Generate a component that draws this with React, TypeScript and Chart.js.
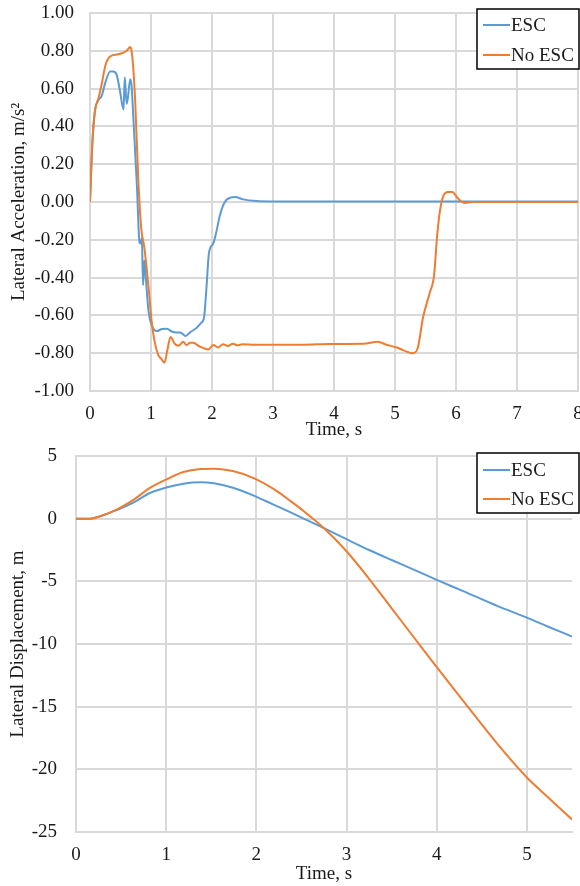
import React, { useEffect, useRef } from "react";
import { Chart, registerables } from "chart.js";

Chart.register(...registerables);

const FONT = "'Liberation Serif', 'Times New Roman', serif";
const ESC_COLOR = "#5B9BD5";
const NOESC_COLOR = "#ED7D31";
const GRID = "#d9d9d9";
const TEXT = "#1a1a1a";

const seriesLabels = ["ESC", "No ESC"];

// ---- Lateral acceleration (top chart) ----
const accelEscTime = [
  0, 0.04, 0.08, 0.14, 0.19, 0.25, 0.33, 0.38, 0.44, 0.49, 0.55, 0.57, 0.6, 0.62, 0.66, 0.68, 0.71,
  0.77, 0.81, 0.83, 0.85, 0.87, 0.89, 0.91, 0.96, 1.01, 1.09, 1.18, 1.26, 1.34, 1.42, 1.48, 1.57,
  1.64, 1.75, 1.82, 1.87, 1.91, 1.95, 2.02, 2.07, 2.13, 2.21, 2.3, 2.38, 2.51, 2.73, 3.0, 4.0, 5.0,
  6.0, 7.0, 8.0,
];
const accelEscValues = [
  0, 0.32, 0.48, 0.54, 0.56, 0.63, 0.69, 0.69, 0.67, 0.59, 0.49, 0.66, 0.52, 0.55, 0.65, 0.62, 0.45,
  0.08, -0.21, -0.22, -0.19, -0.44, -0.31, -0.38, -0.58, -0.65, -0.683, -0.672, -0.67, -0.685, -0.69,
  -0.69, -0.709, -0.69, -0.665, -0.64, -0.61, -0.45, -0.27, -0.22, -0.16, -0.07, 0.0, 0.023, 0.027,
  0.014, 0.005, 0.003, 0.002, 0.002, 0.002, 0.002, 0.002,
];

const accelNoEscTime = [
  0, 0.04, 0.08, 0.14, 0.19, 0.25, 0.33, 0.44, 0.55, 0.6, 0.66, 0.69, 0.74, 0.79, 0.84, 0.89, 0.96,
  1.01, 1.06, 1.12, 1.17, 1.22, 1.27, 1.32, 1.39, 1.45, 1.53, 1.58, 1.64, 1.69, 1.8, 1.94, 2.02, 2.1,
  2.18, 2.26, 2.34, 2.42, 2.5, 2.7, 3.0, 3.5, 3.93, 4.48, 4.72, 4.86, 5.03, 5.14, 5.29, 5.37, 5.46,
  5.57, 5.64, 5.69, 5.74, 5.79, 5.87, 5.94, 6.03, 6.14, 6.28, 7.0, 8.0,
];
const accelNoEscValues = [
  0, 0.32, 0.48, 0.55, 0.62, 0.72, 0.77, 0.78, 0.79, 0.8, 0.82, 0.78, 0.54, 0.13, -0.14, -0.24,
  -0.45, -0.63, -0.74, -0.81, -0.83, -0.85, -0.78, -0.714, -0.75, -0.76, -0.74, -0.757, -0.745,
  -0.745, -0.765, -0.78, -0.757, -0.77, -0.752, -0.762, -0.75, -0.758, -0.752, -0.755, -0.755,
  -0.755, -0.751, -0.75, -0.74, -0.755, -0.77, -0.785, -0.8, -0.775, -0.61, -0.48, -0.39, -0.18,
  -0.04, 0.03, 0.053, 0.053, 0.02, -0.005, 0.0, 0.0, 0.0,
];

const accelYTicks = [-1, -0.8, -0.6, -0.4, -0.2, 0, 0.2, 0.4, 0.6, 0.8, 1];
const accelXTicks = [0, 1, 2, 3, 4, 5, 6, 7, 8];

// ---- Lateral displacement (bottom chart) ----
const dispTime = [
  0, 0.16, 0.27, 0.45, 0.64, 0.82, 1.01, 1.19, 1.38, 1.53, 1.75, 1.97, 2.19, 2.38, 2.49, 2.75, 3.0,
  3.25, 3.5, 3.75, 4.0, 4.3, 4.67, 5.0, 5.23, 5.5,
];
const dispEscValues = [
  0, 0.0, 0.2, 0.68, 1.3, 2.05, 2.5, 2.79, 2.9, 2.82, 2.45, 1.84, 1.12, 0.5, 0.13, -0.76, -1.64,
  -2.5, -3.3, -4.08, -4.88, -5.8, -6.96, -7.9, -8.6, -9.4,
];
const dispNoEscValues = [
  0, 0.0, 0.19, 0.72, 1.52, 2.45, 3.16, 3.72, 3.96, 3.99, 3.78, 3.24, 2.37, 1.4, 0.8, -0.76, -2.6,
  -4.8, -7.15, -9.5, -11.85, -14.6, -17.95, -20.65, -22.2, -24.0,
];

const dispYTicks = [-25, -20, -15, -10, -5, 0, 5];
const dispXTicks = [0, 1, 2, 3, 4, 5];

function pairs(t: number[], v: number[]) {
  return t.map((x, i) => ({ x, y: v[i] }));
}

const legendBoxPlugin = {
  id: "legendBox",
  afterDraw(chart: any, _args: any, opts: any) {
    const ctx = chart.ctx;
    const { x, y, w, h, rowTop, rowGap } = opts;
    ctx.save();
    ctx.fillStyle = "#ffffff";
    ctx.fillRect(x, y, w, h);
    ctx.strokeStyle = "#000000";
    ctx.lineWidth = 1.5;
    ctx.strokeRect(x, y, w, h);
    chart.data.datasets.forEach((ds: any, i: number) => {
      const cy = y + rowTop + i * rowGap;
      ctx.strokeStyle = ds.borderColor;
      ctx.lineWidth = 2;
      ctx.beginPath();
      ctx.moveTo(x + 6, cy);
      ctx.lineTo(x + 33, cy);
      ctx.stroke();
      ctx.fillStyle = TEXT;
      ctx.font = `19px ${FONT}`;
      ctx.textBaseline = "middle";
      ctx.textAlign = "left";
      ctx.fillText(ds.label, x + 34, cy + 1);
    });
    ctx.restore();
  },
};

type Spec = {
  height: number;
  esc: { x: number; y: number }[];
  noEsc: { x: number; y: number }[];
  xMax: number;
  xTicks: number[];
  yMin: number;
  yMax: number;
  yTicks: number[];
  yFormat: (v: number) => string;
  yTitle: string;
  yWidth: number;
  yTickPad: number;
  yTitlePad: number;
  xHeight: number;
  xTitlePad: number;
  padTop: number;
  padRight: number;
  legend: { x: number; y: number; w: number; h: number; rowTop: number; rowGap: number };
};

function ChartCanvas({ spec }: { spec: Spec }) {
  const ref = useRef<HTMLCanvasElement | null>(null);
  useEffect(() => {
    if (!ref.current) return;
    const tickFont = { family: FONT, size: 19 };
    const chart = new Chart(ref.current, {
      type: "line",
      data: {
        datasets: [
          {
            label: seriesLabels[0],
            data: spec.esc,
            borderColor: ESC_COLOR,
            backgroundColor: ESC_COLOR,
            borderWidth: 2,
            pointRadius: 0,
            cubicInterpolationMode: "monotone",
            order: 1,
          },
          {
            label: seriesLabels[1],
            data: spec.noEsc,
            borderColor: NOESC_COLOR,
            backgroundColor: NOESC_COLOR,
            borderWidth: 2,
            pointRadius: 0,
            cubicInterpolationMode: "monotone",
            order: 0,
          },
        ],
      },
      options: {
        responsive: false,
        animation: false,
        layout: { padding: { left: 0, top: spec.padTop, right: spec.padRight, bottom: 0 } },
        plugins: {
          legend: { display: false },
          tooltip: { enabled: false },
          legendBox: spec.legend,
        } as any,
        scales: {
          x: {
            type: "linear",
            min: 0,
            max: spec.xMax,
            afterBuildTicks: (scale: any) => {
              scale.ticks = spec.xTicks.map((v) => ({ value: v }));
            },
            afterFit: (scale: any) => {
              scale.height = spec.xHeight;
              scale.paddingLeft = 0;
              scale.paddingRight = 0;
            },
            grid: { color: GRID, lineWidth: 2, drawTicks: false },
            border: { color: GRID, width: 2 },
            ticks: {
              padding: 12,
              color: TEXT,
              font: tickFont,
              maxRotation: 0,
              autoSkip: false,
              callback: (v: any) => String(v),
            },
            title: {
              display: true,
              text: "Time, s",
              color: TEXT,
              font: { family: FONT, size: 19, lineHeight: 1 },
              padding: { top: 0, bottom: spec.xTitlePad },
            },
          },
          y: {
            type: "linear",
            min: spec.yMin,
            max: spec.yMax,
            afterBuildTicks: (scale: any) => {
              scale.ticks = spec.yTicks.map((v) => ({ value: v }));
            },
            afterFit: (scale: any) => {
              scale.width = spec.yWidth;
              scale.paddingTop = 0;
              scale.paddingBottom = 0;
            },
            grid: { color: GRID, lineWidth: 2, drawTicks: false },
            border: { color: GRID, width: 2 },
            ticks: {
              padding: spec.yTickPad,
              color: TEXT,
              font: tickFont,
              autoSkip: false,
              callback: (v: any) => spec.yFormat(Number(v)),
            },
            title: {
              display: true,
              text: spec.yTitle,
              color: TEXT,
              font: { family: FONT, size: 19, lineHeight: 1 },
              padding: { top: spec.yTitlePad, bottom: 0 },
            },
          },
        },
      } as any,
      plugins: [legendBoxPlugin as any],
    });
    return () => chart.destroy();
  }, [spec]);
  return (
    <canvas
      ref={ref}
      width={580}
      height={spec.height}
      style={{ display: "block", width: 580, height: spec.height }}
    />
  );
}

const topSpec: Spec = {
  height: 440,
  esc: pairs(accelEscTime, accelEscValues),
  noEsc: pairs(accelNoEscTime, accelNoEscValues),
  xMax: 8,
  xTicks: accelXTicks,
  yMin: -1,
  yMax: 1,
  yTicks: accelYTicks,
  yFormat: (v) => v.toFixed(2),
  yTitle: "Lateral Acceleration, m/s²",
  yWidth: 90,
  yTickPad: 16,
  yTitlePad: 10,
  xHeight: 49,
  xTitlePad: 0,
  padTop: 13,
  padRight: 2,
  legend: { x: 477, y: 9, w: 102, h: 60, rowTop: 16, rowGap: 30 },
};

const bottomSpec: Spec = {
  height: 446,
  esc: pairs(dispTime, dispEscValues),
  noEsc: pairs(dispTime, dispNoEscValues),
  xMax: 5.5,
  xTicks: dispXTicks,
  yMin: -25,
  yMax: 5,
  yTicks: dispYTicks,
  yFormat: (v) => String(Math.round(v)),
  yTitle: "Lateral Displacement, m",
  yWidth: 76,
  yTickPad: 19,
  yTitlePad: 9,
  xHeight: 54,
  xTitlePad: 2,
  padTop: 16,
  padRight: 8,
  legend: { x: 477, y: 13, w: 102, h: 60, rowTop: 17, rowGap: 29 },
};

export default function App() {
  return (
    <div
      style={{
        position: "absolute",
        left: 0,
        top: 0,
        width: 580,
        height: 886,
        background: "#ffffff",
        overflow: "hidden",
      }}
    >
      <ChartCanvas spec={topSpec} />
      <ChartCanvas spec={bottomSpec} />
    </div>
  );
}
